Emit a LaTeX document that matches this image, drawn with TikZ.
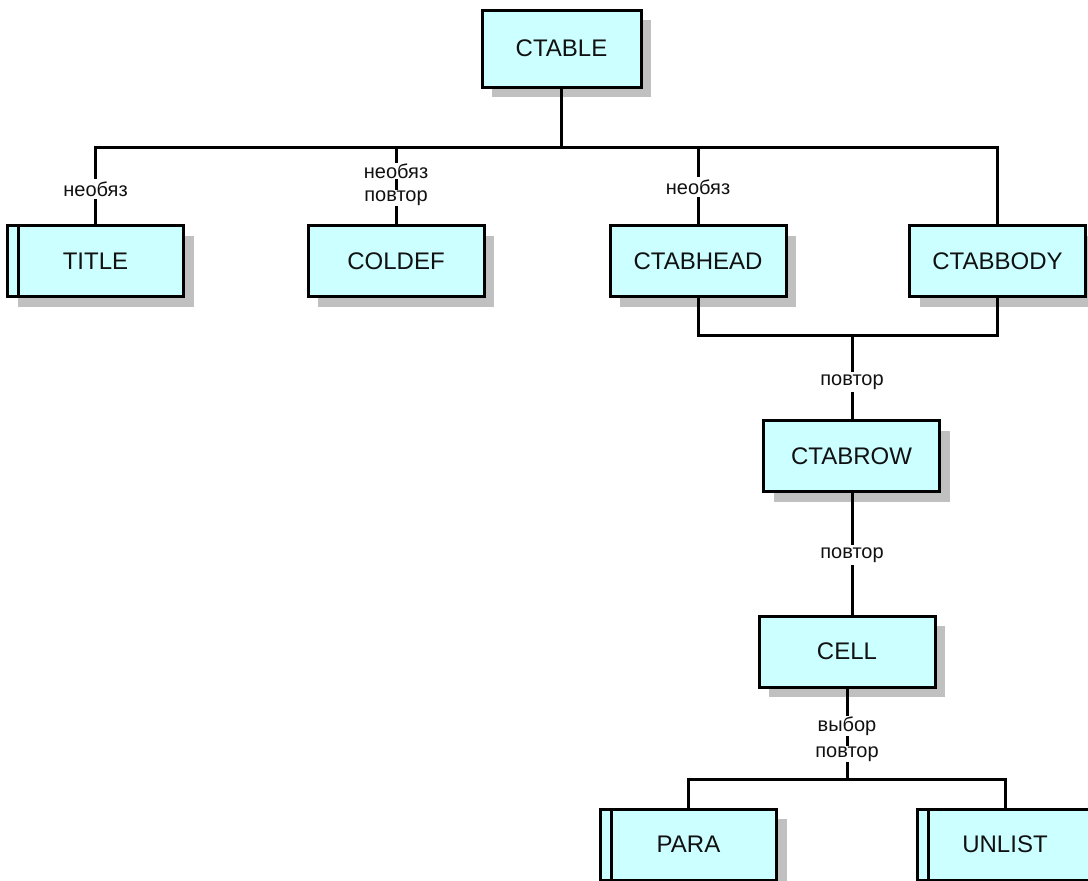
\documentclass[tikz,border=0pt]{standalone}
\usepackage{fontspec}
\setmainfont{Liberation Sans}
\usetikzlibrary{shadows}
\definecolor{boxfill}{HTML}{CCFFFF}
\definecolor{shadowgray}{HTML}{C0C0C0}
\definecolor{ink}{HTML}{111111}
\begin{document}
\begin{tikzpicture}[x=1pt,y=1pt,
  elem/.style={draw=black, line width=3pt, fill=boxfill, text=ink,
    minimum width=176pt, minimum height=71pt, inner sep=0pt,
    font=\fontsize{24}{28}\selectfont,
    drop shadow={shadow xshift=10pt, shadow yshift=-10pt, fill=shadowgray, opacity=1}},
  multi/.style={path picture={
    \draw[line width=3pt] ([xshift=11pt]path picture bounding box.north west)
      -- ([xshift=11pt]path picture bounding box.south west);}},
  link/.style={line width=3pt, draw=black},
  tag/.style={fill=white, inner xsep=1.5pt, inner ysep=2.5pt, text=ink,
    font=\fontsize{20}{22}\selectfont},
  tagpair/.style={tag, inner ysep=0.5pt}
]
\useasboundingbox (0,0) rectangle (1088,-881);

% element boxes
\node[elem, minimum width=159pt, minimum height=77pt] (ctable) at (561.5,-48.5) {CTABLE};
\node[elem, multi] (title) at (95.5,-261) {TITLE};
\node[elem] (coldef) at (396,-261) {COLDEF};
\node[elem] (ctabhead) at (698,-261) {CTABHEAD};
\node[elem] (ctabbody) at (997.5,-261) {CTABBODY};
\node[elem] (ctabrow) at (851.5,-456) {CTABROW};
\node[elem] (cell) at (847,-651.5) {CELL};
\node[elem, multi] (para) at (688.5,-844.5) {PARA};
\node[elem, multi] (unlist) at (1005,-844.5) {UNLIST};

% branching points
\coordinate (busA) at (561.5,-147);
\coordinate (busB) at (852,-335);
\coordinate (busC) at (847,-779);

% CTABLE children
\draw[link] (ctable.south) -- (busA);
\draw[link] (busA) -| (title.north);
\draw[link] (busA) -| (coldef.north);
\draw[link] (busA) -| (ctabhead.north);
\draw[link] (busA) -| (ctabbody.north);

% CTABHEAD / CTABBODY to CTABROW
\draw[link] (ctabhead.south) |- (busB);
\draw[link] (ctabbody.south) |- (busB);
\draw[link] (busB) -- (busB |- ctabrow.north);

% CTABROW to CELL
\draw[link] (ctabrow.south -| busB) -- (cell.north -| busB);

% CELL children
\draw[link] (cell.south) -- (busC);
\draw[link] (busC) -| (para.north);
\draw[link] (busC) -| (unlist.north);

% connector labels
\node[tag] (t1) at (title.north |- 0,-189) {необяз};
\node[tagpair] (t2a) at (coldef.north |- 0,-171) {необяз};
\node[tagpair] (t2b) at (coldef.north |- 0,-198) {повтор};
\node[tag] (t3) at (ctabhead.north |- 0,-187) {необяз};
\node[tag] (t4) at (852,-382) {повтор};
\node[tag] (t5) at (852,-555) {повтор};
\node[tagpair] (t6a) at (847,-726) {выбор};
\node[tagpair] (t6b) at (847,-754) {повтор};
\end{tikzpicture}
\end{document}
